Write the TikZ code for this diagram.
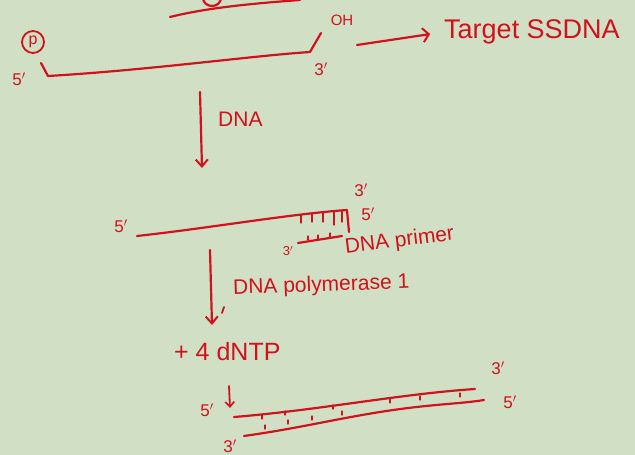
\documentclass[tikz,border=0pt]{standalone}
\usepackage{fontspec}
\setmainfont{Liberation Sans}
\usetikzlibrary{arrows.meta}
\definecolor{bgc}{RGB}{209,223,197}
\definecolor{ink}{RGB}{208,18,28}
\tikzset{
  pen/.style={draw=ink, line width=2.2pt, line cap=round, line join=round},
  thin pen/.style={draw=ink, line width=1.2pt, line cap=round},
  lbl/.style={text=ink, font=\fontsize{17}{17}\selectfont, inner sep=0pt},
  big/.style={text=ink, font=\fontsize{27}{27}\selectfont, inner sep=0pt},
  mid/.style={text=ink, font=\fontsize{21}{21}\selectfont, inner sep=0pt},
  barb/.style={-{Straight Barb[length=7pt,width=12pt,line width=2pt]}}
}
\begin{document}
\begin{tikzpicture}[x=1pt,y=-1pt]
\fill[bgc] (0,0) rectangle (635,455);
\useasboundingbox (0,0) rectangle (635,455);
\begin{scope}
\clip (0,0) rectangle (635,455);
% top partial strand
\coordinate (t1) at (170,17);
\coordinate (t2) at (300,0);
\draw[pen] (t1) .. controls (210,7) and (260,3) .. (t2);
\draw[pen] (212,-2) ellipse (9pt and 8pt);
\end{scope}

% strand 1
\coordinate (s1a) at (41,63);
\coordinate (s1b) at (48,76);
\coordinate (s1c) at (310,52);
\coordinate (s1d) at (321,33);
\draw[pen] (s1a) -- (s1b) .. controls (150,70) and (250,56) .. (s1c) -- (s1d);
\node[draw=ink, line width=1.8pt, circle, minimum size=22pt, inner sep=0pt, text=ink, font=\fontsize{16}{16}\selectfont] (p) at (33,42) {p};
\node[lbl] (f1) at (19,79) {5$'$};
\node[lbl] (t31) at (321,69) {3$'$};
\node[lbl, font=\fontsize{15}{15}\selectfont] (oh) at (342,20) {OH};
\node[big, anchor=west] (target) at (444,32) {Target SSDNA};
\coordinate (ar1) at (357,45);
\draw[pen, shorten >=14pt, -{Straight Barb[length=6pt,width=14pt,line width=2pt]}] (ar1) -- (target.west);

% arrow 1
\coordinate (d1a) at (200,92);
\coordinate (d1b) at (202,168);
\draw[pen, barb] (d1a) -- (d1b);
\node[mid, anchor=west] (dna1) at (218,119) {DNA};

% strand 2
\coordinate (s2a) at (137,236);
\coordinate (s2b) at (347,210);
\coordinate (s2c) at (349,232);
\coordinate (pr1) at (298,243);
\coordinate (pr2) at (342,236);
\draw[pen] (s2a) .. controls (210,228) and (290,214) .. (s2b) -- (s2c);
\draw[pen] (pr1) -- (pr2);
\foreach \x/\yt/\yb in {301/215/223, 312/214/222, 323/213/222, 334/212/225, 342/211/222}
  \draw[thin pen] (\x,\yt) -- (\x,\yb);
\foreach \x/\y in {308/236, 318/235, 330/233}
  \draw[thin pen] (\x,\y) -- (\x,\y+4);
\node[lbl] (f2) at (121,226) {5$'$};
\node[lbl] (t32) at (361,190) {3$'$};
\node[lbl] (f3) at (368,214) {5$'$};
\node[lbl, font=\fontsize{13}{13}\selectfont] (t33) at (288,251) {3$'$};
\node[mid, rotate=7, anchor=west] (primer) at (345,248) {DNA primer};

% arrow 2
\coordinate (d2a) at (210,250);
\coordinate (d2b) at (212,325);
\draw[pen, barb] (d2a) -- (d2b);
\coordinate (k1) at (222,313);
\coordinate (k2) at (224,307);
\draw[thin pen, line width=1.8pt] (k1) -- (k2);
\node[mid, anchor=west, rotate=2] (pol) at (233,289) {DNA polymerase 1};
\node[big, anchor=west, font=\fontsize{25}{25}\selectfont] (dntp) at (174,352) {+ 4 dNTP};

% small arrow
\coordinate (sa1) at (229,386);
\coordinate (sa2) at (230,408);
\draw[pen, line width=1.8pt, -{Straight Barb[length=5pt,width=9pt,line width=1.6pt]}] (sa1) -- (sa2);

% double strand
\coordinate (u1) at (234,417);
\coordinate (u2) at (475,389);
\coordinate (l1) at (244,436);
\coordinate (l2) at (484,400);
\draw[pen] (u1) .. controls (320,410) and (400,394) .. (u2);
\draw[pen] (l1) .. controls (300,428) and (330,420) .. (380,412) .. controls (430,404) and (460,404) .. (l2);
\foreach \x/\y in {262/415, 285/411, 333/405, 390/399, 420/396, 460/393}
  \draw[thin pen] (\x,\y) -- (\x,\y+4);
\foreach \x/\y in {265/429, 288/424, 312/420, 342/415}
  \draw[thin pen] (\x,\y) -- (\x,\y-4);
\node[lbl] (f4) at (207,410) {5$'$};
\node[lbl] (t34) at (498,368) {3$'$};
\node[lbl] (f5) at (510,402) {5$'$};
\node[lbl] (t35) at (230,446) {3$'$};
\end{tikzpicture}
\end{document}
